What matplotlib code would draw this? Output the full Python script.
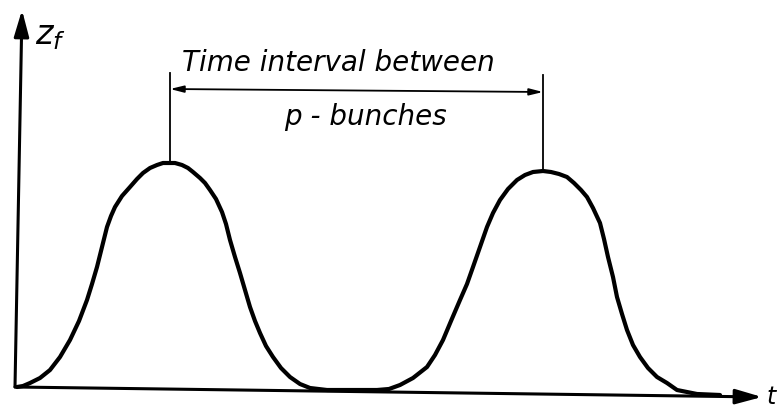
import numpy as np
import matplotlib.pyplot as plt

# z_f(t) for two passing p-bunches (arbitrary units, origin at axes corner)
t = [0, 6, 13, 23, 33, 43, 53, 62, 70, 75, 80, 85, 90, 94, 98, 105, 113, 120,
     126, 133, 140, 146, 151, 158, 165, 171, 176, 183, 188, 193, 199, 205, 209,
     213, 218, 223, 228, 233, 238, 243, 249, 256, 264, 273, 283, 293,
     310, 330, 343, 360, 372, 383, 396, 410, 418, 426, 434, 443, 450, 456, 463,
     470, 476, 483, 491, 500, 508, 516, 526, 534, 542, 550, 557, 564, 570, 576,
     583, 587, 591, 596, 600, 605, 610, 616, 623, 631, 640, 650, 660, 680, 703]
z = [0, 1, 4, 9, 17, 30, 47, 66, 87, 103, 120, 140, 160, 171, 180, 191, 200, 208,
     214, 219, 222, 224, 224, 224, 222, 219, 215, 209, 204, 197, 188, 175, 163,
     147, 130, 114, 97, 80, 66, 54, 41, 30, 19, 10, 3, -1,
     -3, -3, -3, -3, -2, 2, 9, 20, 32, 47, 66, 87, 103, 120, 140,
     160, 174, 187, 198, 207, 212, 215, 216, 215, 213, 210, 204, 197, 190, 179,
     164, 148, 130, 110, 90, 73, 57, 42, 30, 19, 10, 4, -3, -7, -8]

# dimension marker between the two maxima
peak_t = [153, 526]
peak_z = [224, 216]
dim_top = [314, 312]
dim_z = [298, 295]

fig = plt.figure(figsize=(7.84, 4.09), dpi=100)
ax = fig.add_axes([0, 0, 1, 1])
ax.set_xlim(-17, 767)
ax.set_ylim(-22, 387)
ax.axis('off')

ink = '#000000'

# axes with arrowheads
ax.annotate('', xy=(5, 377), xytext=(-2, 0),
            arrowprops=dict(arrowstyle='-|>,head_length=1.6,head_width=0.45',
                            color=ink, lw=2.2, shrinkA=0, shrinkB=0))
ax.annotate('', xy=(745, -10), xytext=(-2, 0),
            arrowprops=dict(arrowstyle='-|>,head_length=1.6,head_width=0.45',
                            color=ink, lw=2.2, shrinkA=0, shrinkB=0))

ax.plot(t, z, color=ink, lw=3.0, solid_capstyle='round', solid_joinstyle='round')

# vertical markers over each peak
for k in range(2):
    ax.plot([peak_t[k], peak_t[k]], [peak_z[k], dim_top[k]], color=ink, lw=1.3)
ax.annotate('', xy=(peak_t[0], dim_z[0]), xytext=(peak_t[1], dim_z[1]),
            arrowprops=dict(arrowstyle='<|-|>,head_length=0.8,head_width=0.2',
                            color=ink, lw=1.3, shrinkA=0, shrinkB=0))

font = dict(family='DejaVu Sans', style='italic', color=ink)
ax.text(321, 324, 'Time interval between', fontsize=20, ha='center', va='center', **font)
ax.text(348, 270, 'p - bunches', fontsize=20, ha='center', va='center', **font)
ax.text(18, 352, r'$z_f$', fontsize=24, ha='left', va='center', color=ink)
ax.text(749, -10, r'$t$', fontsize=17, ha='left', va='center', color=ink)

fig.savefig('out.png', dpi=100)
